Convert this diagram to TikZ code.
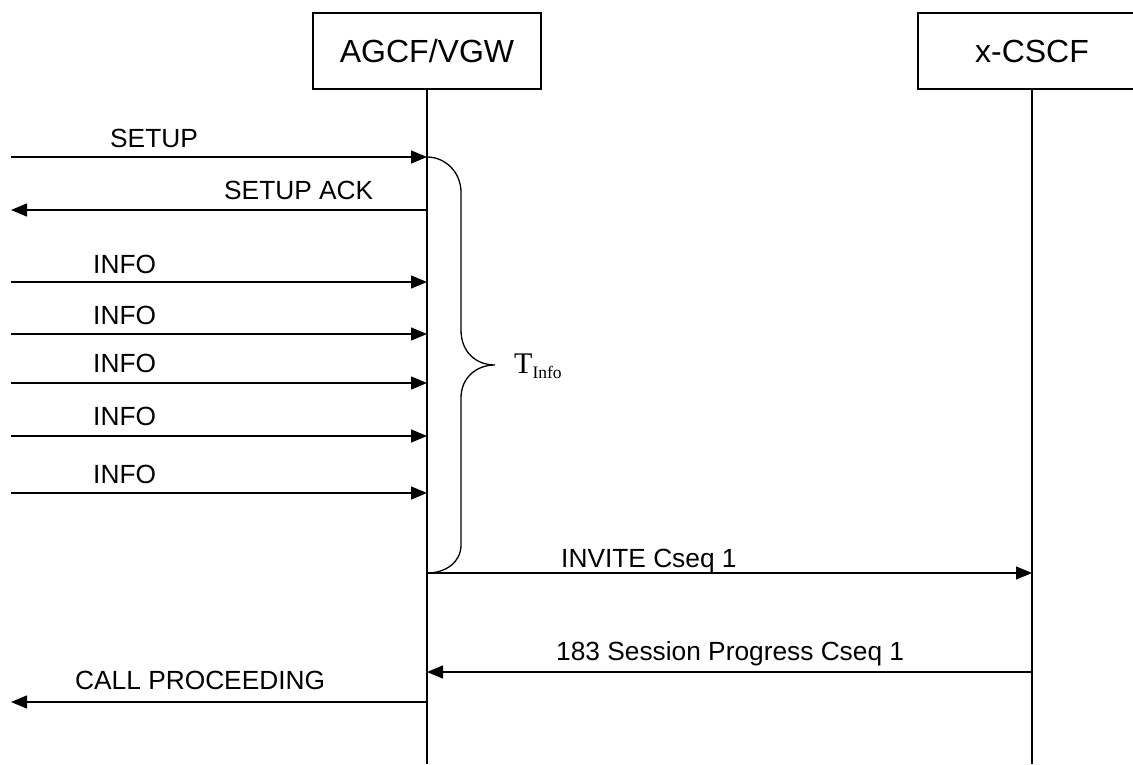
\documentclass[tikz,border=0pt]{standalone}
\usepackage{fontspec}
\setmainfont{Liberation Sans}
\newfontfamily\tnr{Liberation Serif}
\usetikzlibrary{arrows.meta}
\tikzset{
  entity/.style={draw, line width=1.3pt, minimum width=228pt, minimum height=76pt, inner sep=0pt, font=\fontsize{32}{36}\selectfont},
  life/.style={line width=1.3pt},
  msg/.style={line width=1.3pt, -{Triangle[length=16pt,width=13pt]}},
  lbl/.style={anchor=base west, inner sep=0pt, font=\fontsize{26.3}{28}\selectfont},
  brace/.style={line width=1.3pt}
}
\begin{document}
\begin{tikzpicture}[x=1pt,y=-1pt]
\useasboundingbox (0,0) rectangle (1133,764);
\clip (0,0) rectangle (1133,764);
% entities
\node[entity] (agcf) at (427,51) {AGCF/VGW};
\node[entity] (cscf) at (1032,51) {x-CSCF};
\coordinate (agcfend) at (427,764);
\coordinate (cscfend) at (1032,764);
\draw[life] (agcf.south) -- (agcfend);
\draw[life] (cscf.south) -- (cscfend);
% message anchor points
\foreach \n/\y in {setup/157, ack/210, infoa/282, infob/334, infoc/383, infod/436, infoe/493, call/702}{
  \coordinate (L\n) at (11,\y);
  \coordinate (A\n) at (427,\y);
}
\coordinate (Ainv) at (427,573);
\coordinate (Cinv) at (1032,573);
\coordinate (Aprog) at (427,672);
\coordinate (Cprog) at (1032,672);
% messages
\draw[msg] (Lsetup) -- (Asetup);
\draw[msg] (Aack) -- (Lack);
\draw[msg] (Linfoa) -- (Ainfoa);
\draw[msg] (Linfob) -- (Ainfob);
\draw[msg] (Linfoc) -- (Ainfoc);
\draw[msg] (Linfod) -- (Ainfod);
\draw[msg] (Linfoe) -- (Ainfoe);
\draw[msg] (Ainv) -- (Cinv);
\draw[msg] (Cprog) -- (Aprog);
\draw[msg] (Acall) -- (Lcall);
% labels
\node[lbl] (tsetup) at (110,147) {SETUP};
\node[lbl] (tack) at (224,199) {SETUP ACK};
\node[lbl] (tinfoa) at (93,273.5) {INFO};
\node[lbl] (tinfob) at (93,324) {INFO};
\node[lbl] (tinfoc) at (93,372) {INFO};
\node[lbl] (tinfod) at (93,425) {INFO};
\node[lbl] (tinfoe) at (93,483) {INFO};
\node[lbl] (tinv) at (561,567) {INVITE Cseq 1};
\node[lbl] (tprog) at (556,660) {183 Session Progress Cseq 1};
\node[lbl] (tcall) at (75,689) {CALL PROCEEDING};
% brace
\coordinate (btip) at (495,365);
\draw[brace] (Asetup) .. controls (446,157) and (461,173) .. (461,192)
  -- (461,330) .. controls (461,352) and (476,365) .. (btip)
  .. controls (476,365) and (461,378) .. (461,398)
  -- (461,545) .. controls (461,562) and (446,573) .. (Ainv);
\node[anchor=base west, inner sep=0pt] (tinfo) at (514,373)
  {\tnr\fontsize{30}{32}\selectfont T\raisebox{-5pt}{\fontsize{17.5}{19}\selectfont Info}};
\end{tikzpicture}
\end{document}
